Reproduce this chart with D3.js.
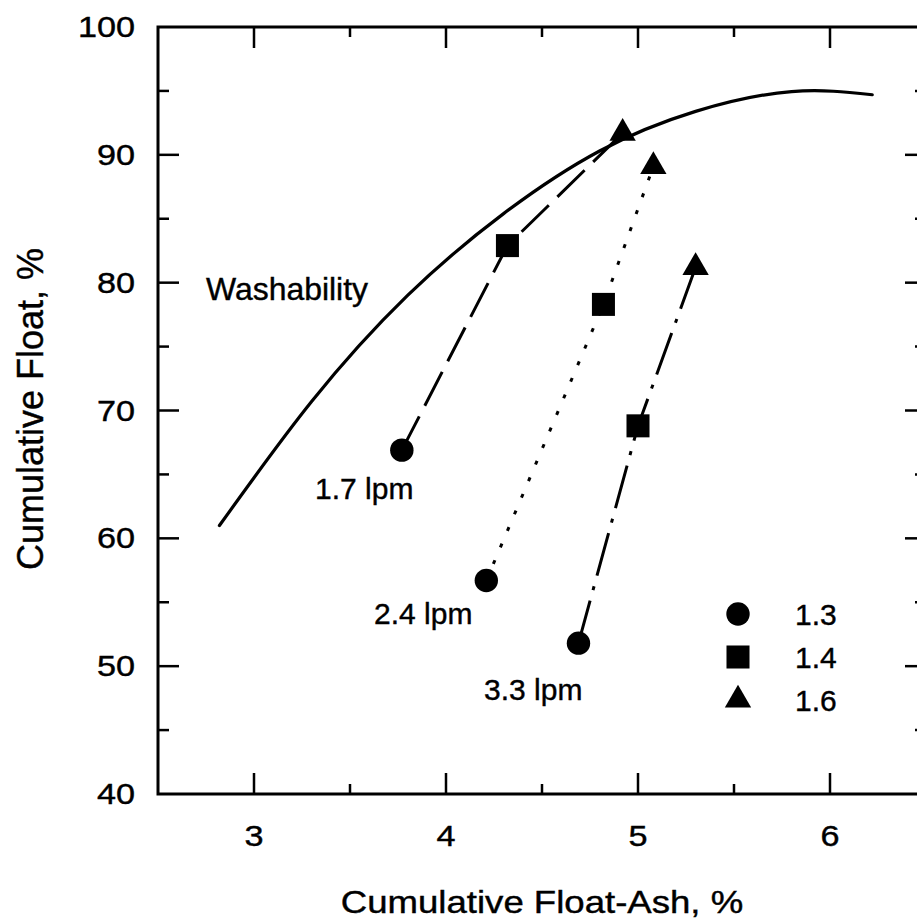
<!DOCTYPE html>
<html>
<head>
<meta charset="utf-8">
<script src="https://cdn.jsdelivr.net/npm/d3@7"></script>
<style>
  body { margin: 0; background: #fff; }
  svg { display: block; font-family: Arial, "Liberation Sans", sans-serif; }
  text { stroke: #000; stroke-width: 0.4px; }
</style>
</head>
<body>
<script>
// washability curve
var washAsh   = [2.82, 3.30, 3.80, 4.30, 4.80, 5.30, 5.80, 6.22];
var washFloat = [61.0, 70.7, 79.0, 85.4, 90.3, 93.4, 94.95, 94.7];

// flotation runs (points at sp. gr. 1.3, 1.4, 1.6)
var runNames = ["1.7 lpm", "2.4 lpm", "3.3 lpm"];
var densities = ["1.3", "1.4", "1.6"];
var ash17 = [3.77, 4.32, 4.92], float17 = [66.9, 82.9, 91.7];
var ash24 = [4.21, 4.82, 5.08], float24 = [56.7, 78.3, 89.1];
var ash33 = [4.69, 5.00, 5.30], float33 = [51.8, 68.8, 81.2];

var xMajor = [3, 4, 5, 6], xMinor = [3.5, 4.5, 5.5];
var yMajor = [40, 50, 60, 70, 80, 90, 100], yMinor = [45, 55, 65, 75, 85, 95];

var W = 917, H = 919;
// plot box (right edge sits just past the window, as in the scan)
var box = { left: 158, right: 926, top: 27, bottom: 794 };

var x = d3.scaleLinear().domain([2.5, 6.5]).range([box.left, box.right]);
var y = d3.scaleLinear().domain([40, 100]).range([box.bottom, box.top]);

var svg = d3.select("body").append("svg")
  .attr("width", W)
  .attr("height", H);

// frame
svg.append("rect")
  .attr("x", box.left).attr("y", box.top)
  .attr("width", box.right - box.left).attr("height", box.bottom - box.top)
  .attr("fill", "none").attr("stroke", "#000").attr("stroke-width", 3);

// ticks, all pointing inward
var ticks = svg.append("g").attr("stroke", "#000").attr("stroke-width", 2.5);
var tickSet = function(vals, len, isX) {
  vals.forEach(function(v) {
    if (isX) {
      ticks.append("line").attr("x1", x(v)).attr("x2", x(v)).attr("y1", box.bottom).attr("y2", box.bottom - len);
      ticks.append("line").attr("x1", x(v)).attr("x2", x(v)).attr("y1", box.top).attr("y2", box.top + len);
    } else {
      ticks.append("line").attr("y1", y(v)).attr("y2", y(v)).attr("x1", box.left).attr("x2", box.left + len);
      ticks.append("line").attr("y1", y(v)).attr("y2", y(v)).attr("x1", box.right).attr("x2", box.right - len);
    }
  });
};
tickSet(xMajor, 21, true);
tickSet(xMinor, 10, true);
tickSet(yMajor.slice(1, -1), 21, false);
tickSet(yMinor, 11, false);

// text helper: the scan is stretched sideways a bit
var label = function(txt, px, py, size, sx, anchor) {
  return svg.append("text")
    .attr("transform", "translate(" + px + "," + py + ") scale(" + sx + ",1)")
    .attr("font-size", size)
    .attr("text-anchor", anchor || "start")
    .attr("fill", "#000")
    .text(txt);
};

xMajor.forEach(function(v) { label(v, x(v), 846, 29, 1.18, "middle"); });
yMajor.forEach(function(v) { label(v, 135, y(v) + 10, 29, 1.18, "end"); });

label("Cumulative Float-Ash, %", (box.left + box.right) / 2, 913, 31, 1.18, "middle");
svg.append("text")
  .attr("transform", "translate(43,409) rotate(-90)")
  .attr("font-size", 36)
  .attr("text-anchor", "middle")
  .text("Cumulative Float, %");

// washability curve
var pts = washAsh.map(function(a, i) { return [a, washFloat[i]]; });
var line = d3.line()
  .x(function(d) { return x(d[0]); })
  .y(function(d) { return y(d[1]); })
  .curve(d3.curveNatural);

svg.append("path")
  .attr("d", line(pts))
  .attr("fill", "none").attr("stroke", "#000").attr("stroke-width", 3.2)
  .attr("stroke-linecap", "round");

label("Washability", 206, 300, 31, 1.03, "start");

// runs
var runs = [
  { name: runNames[0], ash: ash17, fl: float17, dash: "38,12", lx: 315, ly: 499 },
  { name: runNames[1], ash: ash24, fl: float24, dash: "4,14", lx: 374, ly: 624 },
  { name: runNames[2], ash: ash33, fl: float33, dash: "44,11,4,11", lx: 484, ly: 700 }
];

var shapes = [d3.symbolCircle, d3.symbolSquare, d3.symbolTriangle];
var sizes = [430, 530, 300];

runs.forEach(function(r) {
  var p = r.ash.map(function(a, i) { return [a, r.fl[i]]; });
  svg.append("path")
    .attr("d", d3.line().x(function(d) { return x(d[0]); }).y(function(d) { return y(d[1]); })(p))
    .attr("fill", "none").attr("stroke", "#000").attr("stroke-width", 3)
    .attr("stroke-dasharray", r.dash);

  svg.selectAll(null).data(p).enter().append("path")
    .attr("transform", function(d) { return "translate(" + x(d[0]) + "," + y(d[1]) + ")"; })
    .attr("d", function(d, i) { return d3.symbol().type(shapes[i]).size(sizes[i])(); })
    .attr("fill", "#000");

  label(r.name, r.lx, r.ly, 30, 1.0, "start");
});

// legend
densities.forEach(function(dn, i) {
  var ly = 614 + i * 43;
  svg.append("path")
    .attr("transform", "translate(738," + ly + ")")
    .attr("d", d3.symbol().type(shapes[i]).size(sizes[i])())
    .attr("fill", "#000");
  label(dn, 795, ly + 11, 30, 1.0, "start");
});
</script>
</body>
</html>
